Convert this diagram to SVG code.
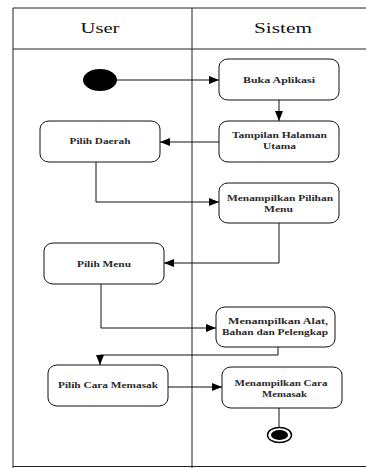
<svg xmlns="http://www.w3.org/2000/svg" width="366" height="468" viewBox="0 0 366 468">
  <style>
    .lane { stroke: #222; stroke-width: 1; fill: none; }
    .box { fill: #fff; stroke: #111; stroke-width: 1; }
    .lbl { font-family: "Liberation Serif", "Times New Roman", serif; font-size: 9px; font-weight: bold; fill: #2a2a2a; text-anchor: middle; }
    .hdr { font-family: "Liberation Serif", "Times New Roman", serif; font-size: 15px; fill: #111; text-anchor: middle; }
    .conn { stroke: #111; stroke-width: 1; fill: none; }
  </style>
  <defs>
    <marker id="arrow" markerUnits="userSpaceOnUse" markerWidth="10" markerHeight="8" refX="10" refY="4" orient="auto">
      <path d="M0,0 L10,4 L0,8 z" fill="#000"/>
    </marker>
  </defs>
  <rect width="366" height="468" fill="#fff"/>

  <!-- swimlane frame -->
  <g id="swimlanes">
    <line class="lane" x1="13" y1="8" x2="366" y2="8" stroke-width="1.5"/>
    <line class="lane" x1="13" y1="49" x2="366" y2="49" stroke="#444"/>
    <line class="lane" x1="13" y1="466.5" x2="366" y2="466.5" stroke="#e3e6ec"/>
    <line class="lane" x1="13" y1="8" x2="13" y2="468" stroke="#000" stroke-width="2.2"/>
    <line class="lane" x1="192" y1="8" x2="192" y2="468"/>
    <text class="hdr" x="100" y="33" textLength="39" lengthAdjust="spacingAndGlyphs">User</text>
    <text class="hdr" x="283" y="33" textLength="58" lengthAdjust="spacingAndGlyphs">Sistem</text>
  </g>

  <!-- connectors -->
  <g id="connectors">
    <line class="conn" x1="117" y1="80" x2="219" y2="80" marker-end="url(#arrow)"/>
    <line class="conn" x1="279" y1="100" x2="279" y2="121" marker-end="url(#arrow)"/>
    <line class="conn" x1="219" y1="142" x2="160" y2="142" marker-end="url(#arrow)"/>
    <polyline class="conn" points="96,162 96,202 219,202" marker-end="url(#arrow)"/>
    <polyline class="conn" points="279,223 279,263 164,263" marker-end="url(#arrow)"/>
    <polyline class="conn" points="101,284 101,328 216,328" marker-end="url(#arrow)"/>
    <polyline class="conn" points="278,347 278,355 100,355 100,365" marker-end="url(#arrow)"/>
    <line class="conn" x1="168" y1="387" x2="222" y2="387" marker-end="url(#arrow)"/>
    <line class="conn" x1="279" y1="408" x2="279" y2="427"/>
  </g>

  <g id="start">
    <ellipse cx="100" cy="80" rx="17" ry="11" fill="#000"/>
  </g>

  <g id="buka-aplikasi">
    <rect class="box" x="219" y="59" width="120" height="41" rx="9" ry="8"/>
    <text class="lbl" x="279" y="83" textLength="72" lengthAdjust="spacingAndGlyphs">Buka Aplikasi</text>
  </g>

  <g id="tampilan-halaman">
    <rect class="box" x="219" y="121" width="120" height="41" rx="9" ry="8"/>
    <text class="lbl" x="279.5" y="138" textLength="95" lengthAdjust="spacingAndGlyphs">Tampilan Halaman</text>
    <text class="lbl" x="279.5" y="149" textLength="33" lengthAdjust="spacingAndGlyphs">Utama</text>
  </g>

  <g id="pilih-daerah">
    <rect class="box" x="40" y="121" width="120" height="41" rx="9" ry="8"/>
    <text class="lbl" x="100" y="144" textLength="61" lengthAdjust="spacingAndGlyphs">Pilih Daerah</text>
  </g>

  <g id="menampilkan-pilihan">
    <rect class="box" x="219" y="183" width="120" height="40" rx="9" ry="8"/>
    <text class="lbl" x="280" y="201" textLength="106" lengthAdjust="spacingAndGlyphs">Menampilkan Pilihan</text>
    <text class="lbl" x="278.5" y="212" textLength="29" lengthAdjust="spacingAndGlyphs">Menu</text>
  </g>

  <g id="pilih-menu">
    <rect class="box" x="44" y="243" width="120" height="41" rx="9" ry="8"/>
    <text class="lbl" x="104" y="267" textLength="54" lengthAdjust="spacingAndGlyphs">Pilih Menu</text>
  </g>

  <g id="menampilkan-alat">
    <rect class="box" x="216" y="307" width="119" height="40" rx="9" ry="8"/>
    <text class="lbl" x="278" y="324" textLength="100" lengthAdjust="spacingAndGlyphs">Menampilkan Alat,</text>
    <text class="lbl" x="275" y="335" textLength="106" lengthAdjust="spacingAndGlyphs">Bahan dan Pelengkap</text>
  </g>

  <g id="pilih-cara-memasak">
    <rect class="box" x="48" y="365" width="120" height="41" rx="9" ry="8"/>
    <text class="lbl" x="108" y="388" textLength="100" lengthAdjust="spacingAndGlyphs">Pilih Cara Memasak</text>
  </g>

  <g id="menampilkan-cara">
    <rect class="box" x="222" y="367" width="120" height="41" rx="9" ry="8"/>
    <text class="lbl" x="281" y="386" textLength="93" lengthAdjust="spacingAndGlyphs">Menampilkan Cara</text>
    <text class="lbl" x="284.5" y="397" textLength="45" lengthAdjust="spacingAndGlyphs">Memasak</text>
  </g>

  <g id="end">
    <ellipse cx="279.5" cy="435" rx="12" ry="7.5" fill="#fff" stroke="#000" stroke-width="1.4"/>
    <ellipse cx="279.5" cy="435" rx="8.5" ry="5" fill="#000"/>
  </g>
</svg>
